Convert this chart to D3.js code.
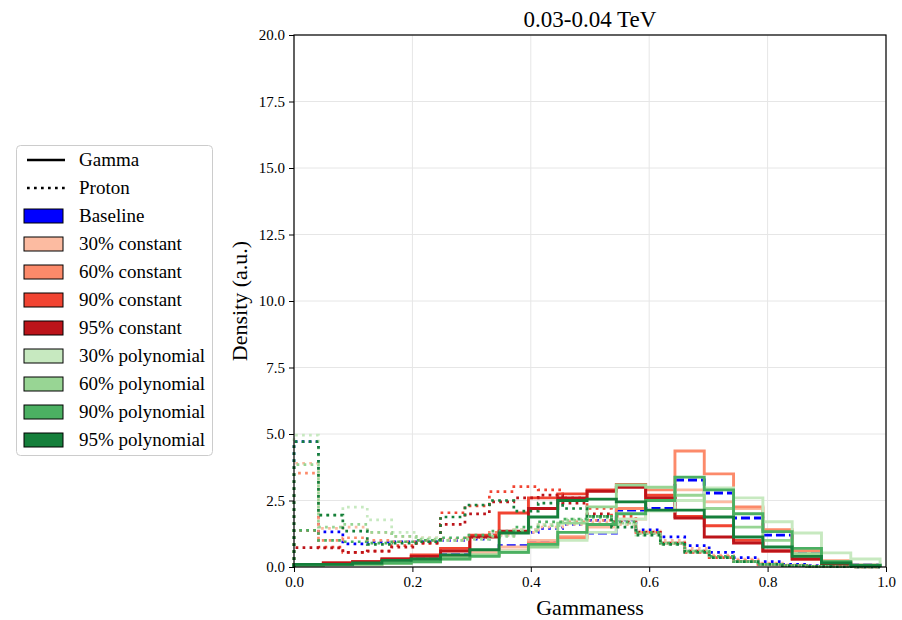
<!DOCTYPE html>
<html>
<head>
<meta charset="utf-8">
<script src="https://cdn.jsdelivr.net/npm/d3@7"></script>
<style>
  html, body { margin: 0; padding: 0; background: #fff; }
  svg { display: block; }
  text { font-family: "Liberation Serif", "DejaVu Serif", serif; fill: #000; }
</style>
</head>
<body>
<svg id="chart" width="902" height="620"></svg>
<script>
// ---------------- DATA ----------------
const title = "0.03-0.04 TeV";
const xTicks = [0.0, 0.2, 0.4, 0.6, 0.8, 1.0];
const yTicks = [0.0, 2.5, 5.0, 7.5, 10.0, 12.5, 15.0, 17.5, 20.0];

const seriesNames = ["Baseline", "30% constant", "60% constant", "90% constant", "95% constant",
                     "30% polynomial", "60% polynomial", "90% polynomial", "95% polynomial"];
const seriesColors = ["#0000ff", "#fcbba1", "#fc8a6a", "#f14432", "#bc141a",
                      "#c7e9c0", "#98d594", "#4bb062", "#157f3b"];

// Gamma histograms (20 bins)
const gammaEdges = [0, 0.0495, 0.099, 0.1485, 0.198, 0.2475, 0.297, 0.3465, 0.396, 0.4455, 0.495,
                    0.5445, 0.594, 0.6435, 0.693, 0.7425, 0.792, 0.8415, 0.891, 0.9405, 0.99];
const gammaBaseline = [0.05, 0.1, 0.15, 0.2, 0.3, 0.45, 0.6, 0.8, 1.0, 1.1, 1.28, 2.14, 2.2, 3.27, 2.78, 1.84, 1.2, 0.56, 0.17, 0.08];
const gamma30c = [0.05, 0.1, 0.15, 0.2, 0.3, 0.4, 0.55, 0.75, 1.0, 1.15, 1.5, 1.8, 2.6, 2.9, 2.45, 2.2, 1.35, 0.7, 0.25, 0.08];
const gamma60c = [0.05, 0.1, 0.1, 0.15, 0.25, 0.35, 0.45, 0.6, 0.9, 1.1, 1.6, 2.2, 2.9, 4.36, 3.5, 2.26, 1.4, 0.6, 0.2, 0.05];
const gamma90c = [0.1, 0.15, 0.2, 0.3, 0.45, 0.7, 1.2, 2.03, 2.6, 2.75, 2.9, 3.1, 2.7, 1.9, 1.55, 1.0, 0.6, 0.3, 0.1, 0.03];
const gamma95c = [0.1, 0.15, 0.2, 0.3, 0.4, 0.6, 1.13, 1.35, 2.2, 2.6, 2.85, 3.0, 2.6, 1.84, 1.13, 0.9, 0.6, 0.3, 0.1, 0.03];
const gamma30p = [0.05, 0.08, 0.1, 0.15, 0.2, 0.3, 0.45, 0.6, 0.8, 1.0, 1.3, 1.8, 2.1, 2.5, 2.97, 2.6, 1.7, 1.28, 0.53, 0.3];
const gamma60p = [0.05, 0.1, 0.1, 0.15, 0.25, 0.35, 0.45, 0.55, 0.75, 1.65, 2.26, 3.08, 3.0, 2.7, 2.2, 1.5, 1.0, 0.5, 0.2, 0.06];
const gamma90p = [0.08, 0.1, 0.12, 0.15, 0.2, 0.3, 0.4, 0.55, 0.85, 1.3, 1.6, 2.0, 2.5, 3.38, 2.9, 2.0, 1.33, 0.7, 0.2, 0.07];
const gamma95p = [0.1, 0.1, 0.15, 0.25, 0.3, 0.45, 0.65, 1.28, 1.88, 2.5, 2.55, 2.45, 2.14, 2.14, 1.88, 1.13, 0.75, 0.4, 0.15, 0.05];

// Proton histograms (24 bins)
const protonEdges = [0, 0.0413, 0.0825, 0.1238, 0.165, 0.2063, 0.2475, 0.2888, 0.33, 0.3713, 0.4125, 0.4538,
                     0.495, 0.5363, 0.5775, 0.6188, 0.66, 0.7013, 0.7425, 0.7838, 0.825, 0.8663, 0.9075, 0.9488, 0.99];
const protonBaseline = [4.71, 1.32, 0.87, 0.94, 0.95, 0.95, 1.0, 1.05, 1.2, 1.3, 1.45, 1.6, 1.75, 1.77, 1.4, 1.13, 0.8, 0.55, 0.35, 0.2, 0.1, 0.05, 0.02, 0.0];
const proton30c = [3.9, 1.45, 1.5, 1.3, 1.15, 1.1, 1.05, 1.1, 1.2, 1.3, 1.5, 1.6, 1.7, 1.7, 1.35, 1.0, 0.7, 0.45, 0.3, 0.15, 0.08, 0.03, 0.01, 0.0];
const proton60c = [3.53, 1.0, 1.1, 1.0, 0.95, 1.0, 1.0, 1.1, 1.3, 1.4, 1.6, 1.7, 1.75, 1.6, 1.3, 0.9, 0.6, 0.4, 0.25, 0.12, 0.06, 0.03, 0.01, 0.0];
const proton90c = [1.38, 0.75, 0.55, 0.6, 0.8, 0.9, 2.04, 2.3, 2.83, 3.02, 2.9, 2.6, 2.2, 1.9, 1.3, 0.9, 0.55, 0.35, 0.2, 0.1, 0.05, 0.02, 0.01, 0.0];
const proton95c = [0.73, 0.72, 0.55, 0.6, 0.75, 0.9, 1.6, 2.0, 2.45, 2.6, 2.7, 2.4, 2.0, 1.7, 1.3, 0.9, 0.6, 0.35, 0.2, 0.1, 0.05, 0.02, 0.01, 0.0];
const proton30p = [4.96, 1.95, 2.25, 1.77, 1.3, 1.1, 1.0, 1.05, 1.2, 1.4, 1.6, 1.8, 1.9, 1.6, 1.2, 0.85, 0.55, 0.35, 0.2, 0.1, 0.05, 0.02, 0.01, 0.0];
const proton60p = [3.85, 1.5, 1.6, 1.3, 1.15, 1.05, 1.0, 1.05, 1.15, 1.35, 1.55, 1.75, 1.85, 1.65, 1.25, 0.9, 0.6, 0.35, 0.2, 0.1, 0.05, 0.02, 0.01, 0.0];
const proton90p = [1.38, 1.0, 0.95, 0.9, 0.95, 1.0, 1.1, 1.2, 1.35, 1.5, 1.7, 1.8, 1.9, 1.7, 1.3, 0.9, 0.6, 0.4, 0.2, 0.1, 0.05, 0.02, 0.01, 0.0];
const proton95p = [4.71, 1.95, 1.35, 0.85, 0.9, 0.95, 1.88, 2.33, 2.5, 2.1, 2.4, 2.2, 1.9, 1.5, 1.2, 0.85, 0.55, 0.35, 0.2, 0.1, 0.05, 0.02, 0.01, 0.0];

const gammaSeries = [gammaBaseline, gamma30c, gamma60c, gamma90c, gamma95c, gamma30p, gamma60p, gamma90p, gamma95p];
const protonSeries = [protonBaseline, proton30c, proton60c, proton90c, proton95c, proton30p, proton60p, proton90p, proton95p];

// ---------------- LAYOUT ----------------
const svg = d3.select("#chart");
const margin = {left: 294, right: 16, top: 35, bottom: 53};
const W = 902, H = 620;
const x = d3.scaleLinear().domain([0, 1]).range([margin.left, W - margin.right]);
const y = d3.scaleLinear().domain([0, 20]).range([H - margin.bottom, margin.top]);

// grid
const grid = svg.append("g");
grid.selectAll(".gx").data(xTicks).join("line")
  .attr("x1", d => x(d)).attr("x2", d => x(d))
  .attr("y1", y(0)).attr("y2", y(20))
  .attr("stroke", "#e6e6e6").attr("stroke-width", 1);
grid.selectAll(".gy").data(yTicks).join("line")
  .attr("x1", x(0)).attr("x2", x(1))
  .attr("y1", d => y(d)).attr("y2", d => y(d))
  .attr("stroke", "#e6e6e6").attr("stroke-width", 1);

// clip
svg.append("clipPath").attr("id", "clip").append("rect")
  .attr("x", x(0) - 2).attr("y", y(20)).attr("width", x(1) - x(0) + 4).attr("height", y(0) - y(20) + 2);

function stepPoints(edges, vals) {
  const pts = [[edges[0], 0]];
  vals.forEach((v, i) => { pts.push([edges[i], v]); pts.push([edges[i + 1], v]); });
  pts.push([edges[edges.length - 1], 0]);
  return pts;
}
const line = d3.line().x(d => x(d[0])).y(d => y(d[1]));

const plot = svg.append("g").attr("clip-path", "url(#clip)");
seriesNames.forEach((name, i) => {
  // gamma
  plot.append("path")
    .attr("d", line(stepPoints(gammaEdges, gammaSeries[i])))
    .attr("fill", "none")
    .attr("stroke", seriesColors[i])
    .attr("stroke-width", 2.9)
    .attr("stroke-linejoin", "miter")
    .attr("stroke-dasharray", i === 0 ? "9,4" : null);
  // proton
  plot.append("path")
    .attr("d", line(stepPoints(protonEdges, protonSeries[i])))
    .attr("fill", "none")
    .attr("stroke", seriesColors[i])
    .attr("stroke-width", 2.7)
    .attr("stroke-dasharray", "2.7,4.3");
});

// axes
const xAxis = svg.append("g").attr("transform", `translate(0,${y(0)})`)
  .call(d3.axisBottom(x).tickValues(xTicks).tickFormat(d3.format(".1f")).tickSizeOuter(0).tickSize(5).tickPadding(4));
const yAxis = svg.append("g").attr("transform", `translate(${x(0)},0)`)
  .call(d3.axisLeft(y).tickValues(yTicks).tickFormat(d3.format(".1f")).tickSizeOuter(0).tickSize(5).tickPadding(4));
[xAxis, yAxis].forEach(a => {
  a.select(".domain").remove();
  a.selectAll(".tick line").attr("stroke", "#000").attr("stroke-width", 1);
  a.selectAll(".tick text").style("font-family", "'Liberation Serif', serif").style("font-size", "15px").attr("fill", "#000");
});

// frame
svg.append("rect")
  .attr("x", x(0)).attr("y", y(20)).attr("width", x(1) - x(0)).attr("height", y(0) - y(20))
  .attr("fill", "none").attr("stroke", "#000").attr("stroke-width", 1.2);

// titles
svg.append("text").attr("x", (x(0) + x(1)) / 2).attr("y", 27).attr("text-anchor", "middle")
  .style("font-size", "23px").text(title);
svg.append("text").attr("x", (x(0) + x(1)) / 2).attr("y", 615).attr("text-anchor", "middle")
  .style("font-size", "22px").text("Gammaness");
svg.append("text").attr("transform", `translate(247,${(y(0) + y(20)) / 2}) rotate(-90)`)
  .attr("text-anchor", "middle").style("font-size", "22px").text("Density (a.u.)");

// legend
const lg = svg.append("g");
lg.append("rect").attr("x", 16.5).attr("y", 145.5).attr("width", 196).attr("height", 310)
  .attr("rx", 4).attr("fill", "#fff").attr("stroke", "#cccccc").attr("stroke-width", 1);
const rowY = i => 160 + i * 28;
lg.append("line").attr("x1", 27).attr("x2", 65).attr("y1", rowY(0)).attr("y2", rowY(0))
  .attr("stroke", "#000").attr("stroke-width", 2.7);
lg.append("line").attr("x1", 27).attr("x2", 65).attr("y1", rowY(1)).attr("y2", rowY(1))
  .attr("stroke", "#000").attr("stroke-width", 2.7).attr("stroke-dasharray", "2.7,4.3");
const lgLabels = ["Gamma", "Proton"].concat(seriesNames);
lgLabels.forEach((t, i) => {
  lg.append("text").attr("x", 79).attr("y", rowY(i) + 6).style("font-size", "19px").text(t);
});
seriesNames.forEach((n, i) => {
  lg.append("rect").attr("x", 24).attr("y", rowY(i + 2) - 7).attr("width", 39).attr("height", 14)
    .attr("fill", seriesColors[i]).attr("stroke", "#000").attr("stroke-width", 1);
});
</script>
</body>
</html>
